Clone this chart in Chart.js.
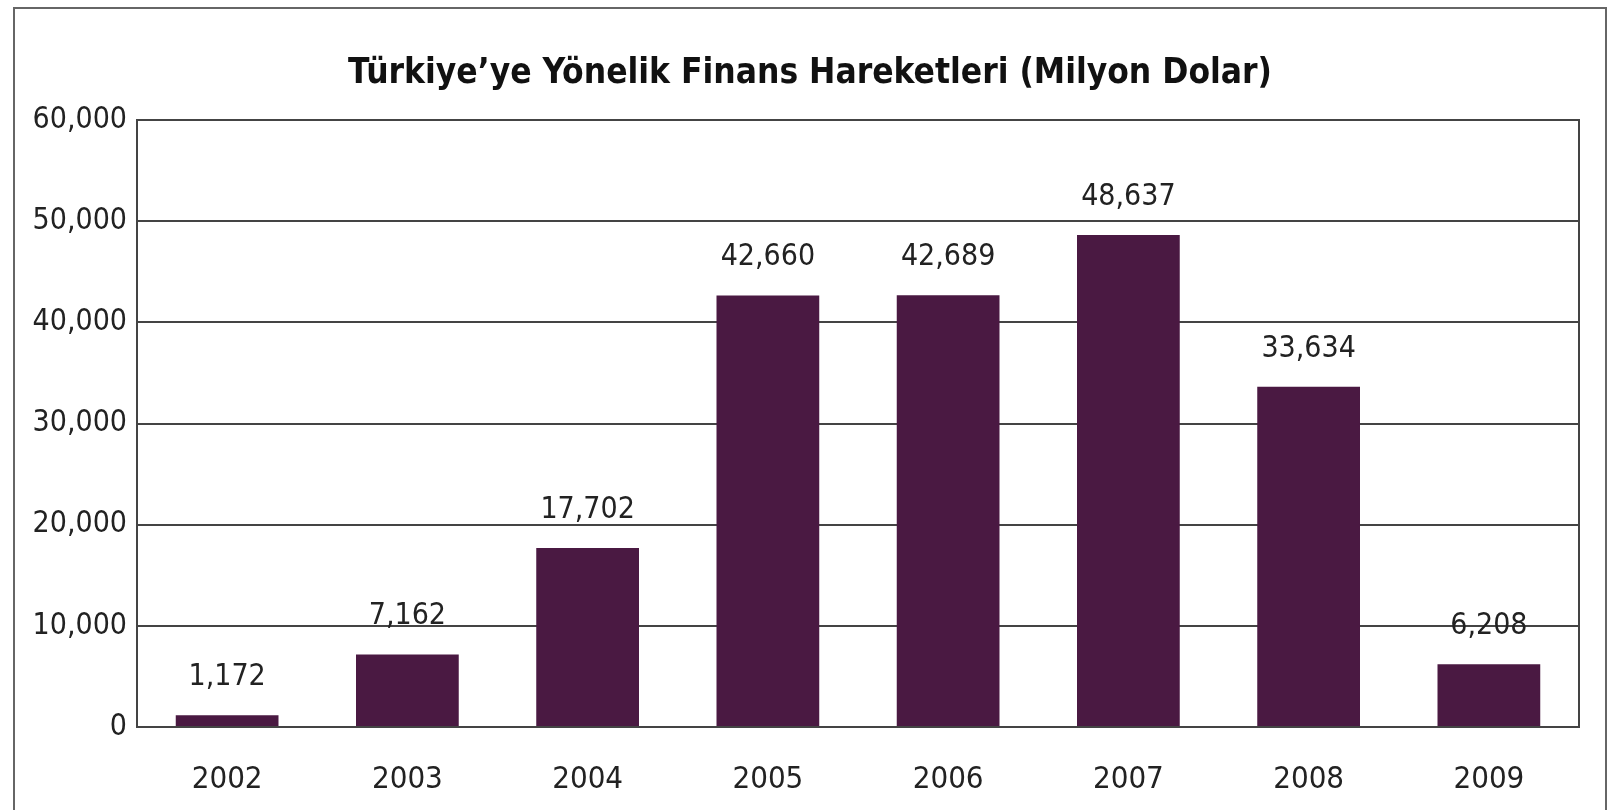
<!DOCTYPE html>
<html>
<head>
    <meta charset="utf-8">
    <title>Türkiye'ye Yönelik Finans Hareketleri</title>
    <script src="https://cdn.jsdelivr.net/npm/chart.js"></script>
    <style>
        body {
            margin: 0;
            background: #fff;
            overflow: hidden;
        }
        #frame {
            position: absolute;
            left: 13px;
            top: 7px;
            width: 1590px;
            height: 830px;
            border: 2px solid #666;
        }
        #finansChart {
            display: block;
        }
    </style>
</head>
<body>
    <div id="frame">
        <canvas id="finansChart" width="1590" height="801"></canvas>
    </div>

    <script>
    const years = ['2002', '2003', '2004', '2005', '2006', '2007', '2008', '2009'];
    const flows = [1172, 7162, 17702, 42660, 42689, 48637, 33634, 6208];
    const yTicks = [0, 10000, 20000, 30000, 40000, 50000, 60000];

    const narrow = '"Liberation Sans Narrow", "DejaVu Sans Condensed", "Roboto", sans-serif';
    const barColor = '#4a1942';
    const lineColor = '#444';

    // value labels above each bar
    const valueLabels = {
        id: 'valueLabels',
        afterDatasetsDraw(chart) {
            const ctx = chart.ctx;
            const meta = chart.getDatasetMeta(0);
            ctx.save();
            ctx.font = '30px ' + narrow;
            ctx.fillStyle = '#222';
            ctx.textAlign = 'center';
            ctx.textBaseline = 'middle';
            meta.data.forEach((bar, i) => {
                const v = chart.data.datasets[0].data[i];
                ctx.fillText(v.toLocaleString('en-US'), bar.x, bar.y - 38);
            });
            ctx.restore();
        }
    };

    new Chart(document.getElementById('finansChart').getContext('2d'), {
        type: 'bar',
        data: {
            labels: years,
            datasets: [{
                label: 'Milyon Dolar',
                data: flows,
                backgroundColor: barColor,
                categoryPercentage: 1,
                barPercentage: 0.57
            }]
        },
        options: {
            responsive: false,
            animation: false,
            layout: {
                padding: { left: 0, right: 0, top: 0, bottom: 12 }
            },
            plugins: {
                legend: { display: false },
                tooltip: { enabled: false },
                title: {
                    display: true,
                    text: 'Türkiye’ye Yönelik Finans Hareketleri (Milyon Dolar)',
                    color: '#111',
                    font: { family: narrow, size: 35, weight: 'bold' },
                    padding: { top: 44, bottom: 25 }
                }
            },
            scales: {
                x: {
                    afterFit(scale) { scale.height = 71; },
                    grid: { display: false, drawTicks: false },
                    border: { display: true, color: lineColor, width: 2 },
                    ticks: {
                        color: '#222',
                        font: { family: narrow, size: 31 },
                        padding: 34
                    }
                },
                y: {
                    min: 0,
                    max: 60000,
                    afterFit(scale) { scale.width = 122; },
                    afterBuildTicks(scale) {
                        scale.ticks = yTicks.map(v => ({ value: v }));
                    },
                    grid: { color: lineColor, lineWidth: 2, drawTicks: false },
                    border: { display: true, color: lineColor, width: 2 },
                    ticks: {
                        color: '#222',
                        font: { family: narrow, size: 30 },
                        padding: 10,
                        callback: v => v.toLocaleString('en-US')
                    }
                },
                y2: {
                    position: 'right',
                    min: 0,
                    max: 60000,
                    afterFit(scale) { scale.width = 26; },
                    grid: { display: false, drawTicks: false },
                    border: { display: true, color: lineColor, width: 2 },
                    ticks: { display: false }
                }
            }
        },
        plugins: [valueLabels]
    });
    </script>
</body>
</html>
